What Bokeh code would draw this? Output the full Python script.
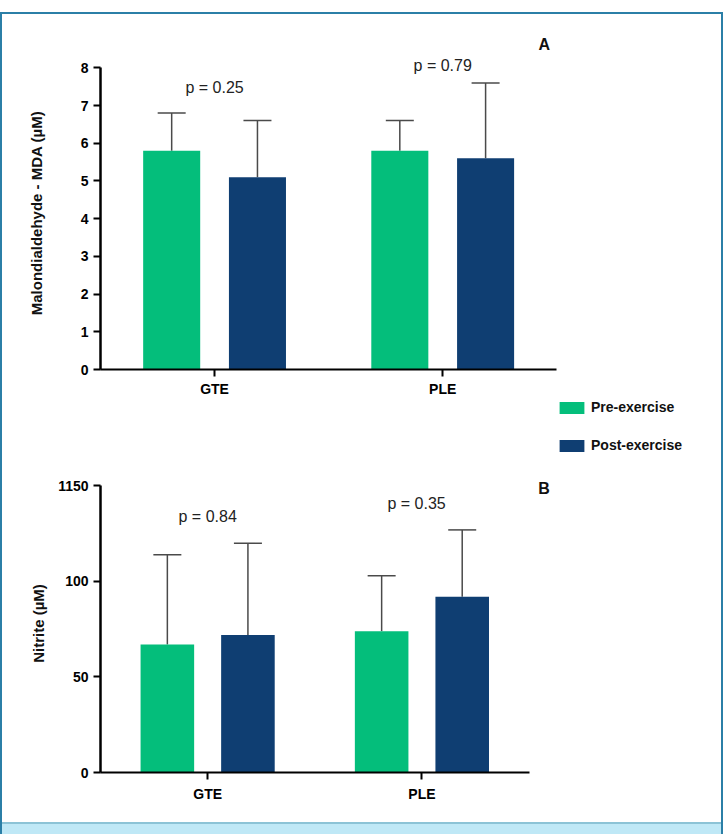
from bokeh.plotting import figure
from bokeh.models import (Range1d, FixedTicker, Whisker, TeeHead, ColumnDataSource,
                          Label, Legend, LegendItem, Div, Spacer, Title)
from bokeh.layouts import column
from bokeh.transform import dodge
from bokeh.embed import file_html
from bokeh.resources import INLINE

# ---------------- data ----------------
groups = ["GTE", "PLE"]
series = ["Pre-exercise", "Post-exercise"]

mda_pre = [5.8, 5.8]
mda_pre_sd = [1.0, 0.8]
mda_post = [5.1, 5.6]
mda_post_sd = [1.5, 2.0]
mda_p = ["p = 0.25", "p = 0.79"]
mda_ticks = [0, 1, 2, 3, 4, 5, 6, 7, 8]

nit_pre = [67, 74]
nit_pre_sd = [47, 29]
nit_post = [72, 92]
nit_post_sd = [48, 35]
nit_p = ["p = 0.84", "p = 0.35"]
nit_ticks = [0, 50, 100, 150]
nit_tick_labels = ["0", "50", "100", "1150"]

# ---------------- style ----------------
GREEN = "#04BE7B"
NAVY = "#0F3E72"
ERR = "#4a4a4a"
FONT = "Liberation Sans"
OFF = 0.188
BW = 0.25


def base_fig(height, x_range, y_range, mb_top, mb_bottom, **kw):
    p = figure(width=719, height=height, x_range=x_range, y_range=y_range,
               output_backend="svg", toolbar_location=None,
               min_border_left=98, min_border_right=21,
               min_border_top=mb_top, min_border_bottom=mb_bottom, **kw)
    p.outline_line_color = None
    p.background_fill_color = "white"
    p.border_fill_color = "white"
    return p


def panel(height, yend, ymax, xend, pre, pre_sd, post, post_sd, ylabel, ticks,
          tick_labels, mb_top, mb_bottom, label_standoff, x_standoff):
    xs = [i + 1 for i in range(len(groups))]
    src = ColumnDataSource(dict(
        x=xs, pre=pre, pre_hi=[v + s for v, s in zip(pre, pre_sd)],
        post=post, post_hi=[v + s for v, s in zip(post, post_sd)]))
    p = base_fig(height, Range1d(0.5, xend), Range1d(0, yend), mb_top, mb_bottom)
    p.xgrid.grid_line_color = None
    p.ygrid.grid_line_color = None

    p.vbar(x=dodge("x", -OFF), top="pre", width=BW, source=src,
           fill_color=GREEN, line_color=None)
    p.vbar(x=dodge("x", OFF), top="post", width=BW, source=src,
           fill_color=NAVY, line_color=None)
    for off, lo, hi in [(-OFF, "pre", "pre_hi"), (OFF, "post", "post_hi")]:
        w = Whisker(base=dodge("x", off), lower=lo, upper=hi, source=src,
                    dimension="height", line_color=ERR, line_width=1.5,
                    upper_head=TeeHead(size=28, line_color=ERR, line_width=1.5),
                    lower_head=None)
        p.add_layout(w)

    # axes
    p.xaxis.ticker = FixedTicker(ticks=xs)
    p.xaxis.major_label_overrides = {x: g for x, g in zip(xs, groups)}
    p.xaxis.bounds = (0.5, 2.5)
    p.yaxis.ticker = FixedTicker(ticks=ticks)
    p.yaxis.major_label_overrides = {t: l for t, l in zip(ticks, tick_labels)}
    p.yaxis.bounds = (0, ymax)
    for ax in (p.xaxis[0], p.yaxis[0]):
        ax.axis_line_color = "black"
        ax.major_tick_line_color = "black"
        ax.major_tick_line_width = 2
        ax.major_tick_in = 0
        ax.major_tick_out = 7
        ax.minor_tick_line_color = None
        ax.major_label_text_font = FONT
        ax.major_label_text_font_style = "bold"
        ax.major_label_text_font_size = "14px"
        ax.major_label_text_color = "black"
    p.xaxis.axis_line_width = 2
    p.yaxis.axis_line_width = 2.5
    p.xaxis.major_label_standoff = x_standoff
    p.yaxis.major_label_standoff = 5
    p.yaxis.axis_label = ylabel
    p.yaxis.axis_label_text_font = FONT
    p.yaxis.axis_label_text_font_style = "bold"
    p.yaxis.axis_label_text_font_size = "15px"
    p.yaxis.axis_label_text_color = "#111111"
    p.yaxis.axis_label_standoff = label_standoff
    return p


def txt(p, x, y, s, size="16px", bold=False, color="#222222"):
    p.add_layout(Label(x=x, y=y, text=s, text_align="center", text_baseline="middle",
                       text_font=FONT, text_font_size=size,
                       text_font_style="bold" if bold else "normal",
                       text_color=color))


# ---- panel A ----
top = panel(385, 8.3, 8, 3.13, mda_pre, mda_pre_sd, mda_post, mda_post_sd,
            "Malondialdehyde - MDA (µM)", mda_ticks,
            [str(t) for t in mda_ticks], 42, 28, 33, 4)
txt(top, 1.0, 7.49, mda_p[0])
txt(top, 2.0, 8.07, mda_p[1])
top.add_layout(Title(text="A", align="left", offset=438, standoff=7,
                     text_font=FONT, text_font_size="16px", text_font_style="bold",
                     text_color="#111111"), "above")

# ---- legend strip (swatches taken from hidden renderers of the same series) ----
leg = base_fig(62, Range1d(0.5, 3.13), Range1d(0, 8.3), 0, 0,
               x_axis_type=None, y_axis_type=None)
leg.grid.visible = False
proxy_src = ColumnDataSource(dict(x=[i + 1 for i in range(len(groups))],
                                  pre=mda_pre, post=mda_post))
proxy_pre = leg.vbar(x=dodge("x", -OFF), top="pre", width=BW, source=proxy_src,
                     fill_color=GREEN, line_color=None, visible=False)
proxy_post = leg.vbar(x=dodge("x", OFF), top="post", width=BW, source=proxy_src,
                      fill_color=NAVY, line_color=None, visible=False)
legend = Legend(items=[LegendItem(label=series[0], renderers=[proxy_pre]),
                       LegendItem(label=series[1], renderers=[proxy_post])],
                location=(456, 8), orientation="vertical",
                glyph_width=31, glyph_height=15, label_height=15, spacing=22,
                label_standoff=4, padding=0, margin=0,
                border_line_color=None, background_fill_alpha=0,
                inactive_fill_alpha=0,
                label_text_font=FONT, label_text_font_style="bold",
                label_text_font_size="14px", label_text_color="#111111")
leg.add_layout(legend)

# ---- panel B ----
bot = panel(361, 156, 150, 3.3, nit_pre, nit_pre_sd, nit_post, nit_post_sd,
            "Nitrite (µM)", nit_ticks, nit_tick_labels, 13, 50, 8, 6)
txt(bot, 1.0, 134, nit_p[0])
txt(bot, 1.975, 141, nit_p[1])
txt(bot, 2.57, 148.5, "B", size="16px", bold=True, color="#111111")

band = Div(text="", width=719, height=12, margin=0,
           styles={"background-color": "#bfe8f6", "border-top": "2px solid #8cc3d6"})

inner = column(top, leg, bot, band, spacing=0,
               styles={"border-top": "2px solid #2b7fa7",
                       "border-left": "2px solid #2b7fa7",
                       "border-right": "2px solid #2b7fa7"})
page = column(Spacer(width=723, height=12), inner, spacing=0)

open("out.html", "w").write(file_html(page, INLINE, title="MDA and Nitrite"))
